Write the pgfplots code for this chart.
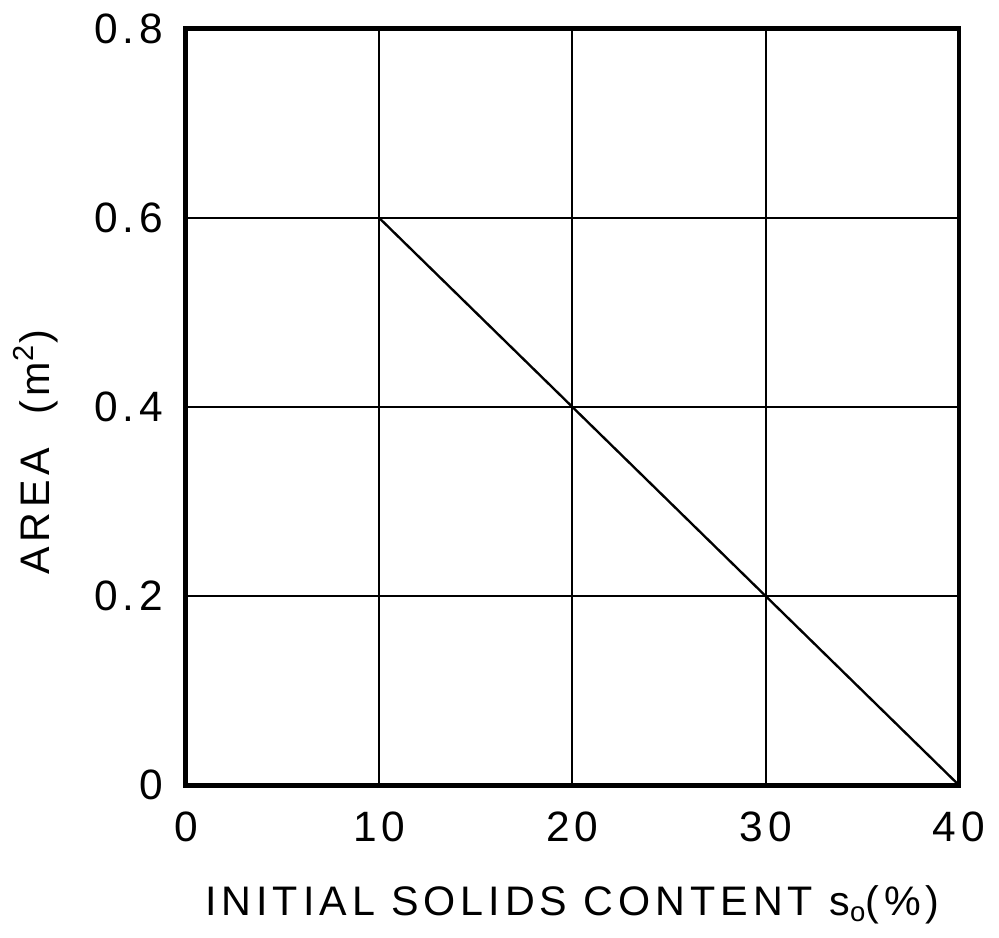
\documentclass[border=0pt]{standalone}
\usepackage{fontspec}
\setmainfont{Liberation Sans}[LetterSpace=12]
\usepackage{pgfplots}
\pgfplotsset{compat=1.18}
\begin{document}
\fontsize{10.5}{12}\selectfont
\begin{tikzpicture}
\begin{axis}[
  width=196.75pt, height=192.5pt, scale only axis,
  xmin=0, xmax=40, ymin=0, ymax=0.8,
  xtick={0,10,20,30,40}, ytick={0,0.2,0.4,0.6,0.8},
  yticklabels={0,0.2,0.4,0.6,0.8},
  xticklabels={0,10,20,30,40},
  /pgf/number format/assume math mode=true,
  major tick length=0pt,
  grid=major,
  major grid style={black, line width=0.5pt},
  axis line style={black, line width=1.2pt},
  xticklabel style={yshift=-3pt},
  yticklabel style={xshift=-2pt},
  xlabel={INITIAL SOLIDS CONTENT s\raisebox{-0.25ex}{\scriptsize o}(\%)},
  ylabel={AREA\ \ (m\textsuperscript{2})},
  xlabel style={yshift=-4pt},
  ylabel style={at={(ticklabel cs:0.44)}, yshift=2pt},
  tick label style={font=\fontsize{10.8}{12}\selectfont},
  label style={font=\fontsize{10.5}{12}\selectfont},
]
\addplot[black, line width=0.6pt, no marks] coordinates {(10,0.6) (20,0.4) (30,0.2) (40,0)};
\end{axis}
\end{tikzpicture}
\end{document}
